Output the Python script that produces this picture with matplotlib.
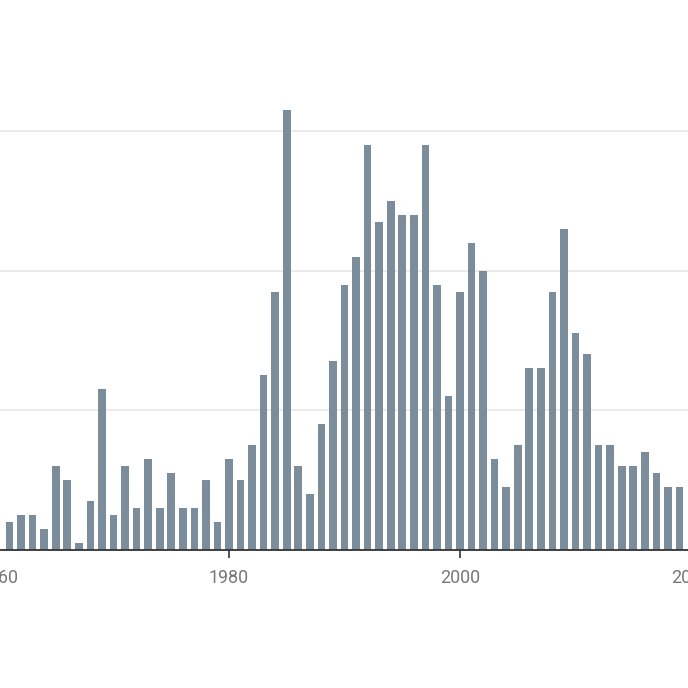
import matplotlib
matplotlib.use("Agg")
import matplotlib.pyplot as plt

years = list(range(1961, 2020))
counts = [4, 5, 5, 3, 12, 10, 1, 7, 23, 5,
          12, 6, 13, 6, 11, 6, 6, 10, 4, 13,
          10, 15, 25, 37, 63, 12, 8, 18, 27, 38,
          42, 58, 47, 50, 48, 48, 58, 38, 22, 37,
          44, 40, 13, 9, 15, 26, 26, 37, 46, 31,
          28, 15, 15, 12, 12, 14, 11, 9, 9]
xticks = [1960, 1980, 2000, 2020]
yticks = [0, 20, 40, 60]

W = H = 688
fig = plt.figure(figsize=(W / 100, H / 100), dpi=100)

# pixel mapping (from top-left): x = 229 + (year-1980)*11.55 ; baseline y=550, 6.985 px/unit
px_per_year = 11.55
x0_year, x1_year = 1950, 2030
left_px = 229 + (x0_year - 1980) * px_per_year
right_px = 229 + (x1_year - 1980) * px_per_year
ymax = 70
unit = 6.985
bottom_px = 550
top_px = bottom_px - ymax * unit

ax = fig.add_axes([left_px / W, (H - bottom_px) / H,
                   (right_px - left_px) / W, (bottom_px - top_px) / H])
ax.set_xlim(x0_year, x1_year)
ax.set_ylim(0, ymax)

ax.bar(years, counts, width=0.66, color="#7b8c9a", zorder=2)

ax.set_yticks(yticks)
ax.yaxis.grid(True, color="#e5e5e5", linewidth=1.1, zorder=0)
ax.tick_params(axis="y", length=0, labelleft=False)

ax.set_xticks(xticks)
ax.set_xticklabels([str(t) for t in xticks], fontfamily="Roboto",
                   fontsize=12.9, color="#777777")
ax.tick_params(axis="x", length=6, width=1.2, color="#333333", pad=8)

for s in ["top", "right", "left"]:
    ax.spines[s].set_visible(False)
ax.spines["bottom"].set_color("#333333")
ax.spines["bottom"].set_linewidth(1.3)
ax.spines["bottom"].set_zorder(3)

fig.savefig("out.png", dpi=100)
